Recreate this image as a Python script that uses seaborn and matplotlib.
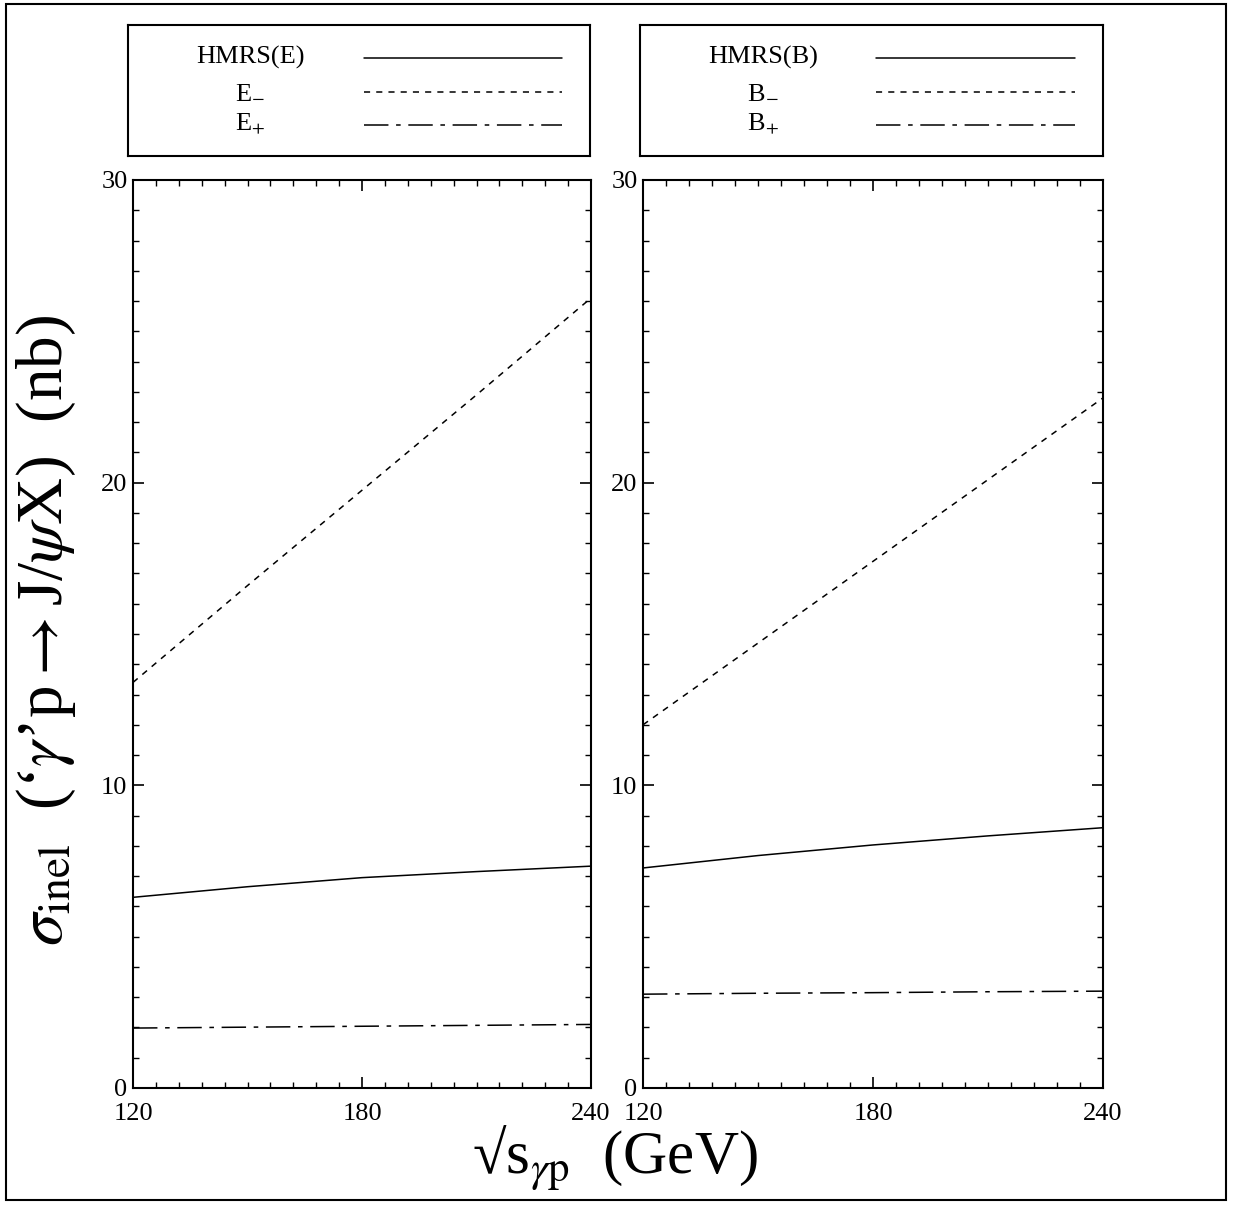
import matplotlib
matplotlib.use("Agg")
import matplotlib.pyplot as plt
import seaborn as sns
import pandas as pd
from matplotlib.patches import Rectangle
from matplotlib.ticker import MultipleLocator

# --- data ---
sqrt_s = [120, 150, 180, 210, 240]

# left panel: HMRS(E) set
hmrs_e = [6.3, 6.65, 6.95, 7.15, 7.33]
e_minus = [13.4, 16.6, 19.75, 22.9, 26.1]
e_plus = [1.98, 2.01, 2.04, 2.07, 2.1]

# right panel: HMRS(B) set
hmrs_b = [7.27, 7.68, 8.03, 8.33, 8.6]
b_minus = [12.0, 14.7, 17.4, 20.1, 22.8]
b_plus = [3.1, 3.13, 3.15, 3.18, 3.2]

x_ticks = [120, 180, 240]
y_ticks = [0, 10, 20, 30]

sns.set_style("ticks")
plt.rcParams["font.family"] = ["Liberation Serif", "DejaVu Serif"]
plt.rcParams["mathtext.fontset"] = "stix"

W, H = 1242, 1209
fig = plt.figure(figsize=(W / 100, H / 100), dpi=100)

styles = ["-", (0, (4, 4)), (0, (16, 5, 3, 5))]


def fbox(x0, y0, x1, y1):
    # pixel box -> figure fraction rect
    return [x0 / W, 1 - y1 / H, (x1 - x0) / W, (y1 - y0) / H]


panels = [
    (fbox(133, 180, 591, 1088), fbox(128, 25, 590, 156),
     [hmrs_e, e_minus, e_plus], ["HMRS(E)", r"E$_{-}$", r"E$_{+}$"]),
    (fbox(643, 180, 1103, 1088), fbox(640, 25, 1103, 156),
     [hmrs_b, b_minus, b_plus], ["HMRS(B)", r"B$_{-}$", r"B$_{+}$"]),
]

for rect, lrect, series, labels in panels:
    ax = fig.add_axes(rect)
    df = pd.DataFrame({"s": sqrt_s})
    for vals, ls in zip(series, styles):
        df["v"] = vals
        sns.lineplot(data=df, x="s", y="v", ax=ax, color="black",
                     linestyle=ls, linewidth=1.1)
    ax.set_xlim(120, 240)
    ax.set_ylim(0, 30)
    ax.set_xticks(x_ticks)
    ax.set_yticks(y_ticks)
    ax.xaxis.set_minor_locator(MultipleLocator(6))
    ax.yaxis.set_minor_locator(MultipleLocator(1))
    ax.tick_params(which="both", direction="in", top=True, right=True,
                   labelsize=19, colors="black")
    ax.tick_params(axis="x", pad=11)
    ax.tick_params(axis="y", pad=4)
    ax.tick_params(which="major", length=8, width=1.2)
    ax.tick_params(which="minor", length=4, width=1.0)
    ax.set_xlabel("")
    ax.set_ylabel("")
    for sp in ax.spines.values():
        sp.set_linewidth(1.5)
        sp.set_color("black")

    # legend box
    lax = fig.add_axes(lrect)
    lax.set_xlim(0, 1)
    lax.set_ylim(0, 1)
    lax.set_xticks([])
    lax.set_yticks([])
    for sp in lax.spines.values():
        sp.set_linewidth(1.5)
        sp.set_color("black")
    for yy, lab, ls in zip([0.75, 0.49, 0.24], labels, styles):
        lax.text(0.265, yy, lab, ha="center", va="center", fontsize=19,
                 color="black")
        lax.plot([0.51, 0.94], [yy, yy], color="black", linestyle=ls,
                 linewidth=1.1)

fig.text(46 / W, 1 - 630 / H,
         r"$\sigma_{\rm inel}$  (‘$\gamma$’p$\rightarrow$J/$\psi$X)  (nb)",
         rotation=90, ha="center", va="center", fontsize=47, color="black")
fig.text(615 / W, 1 - 1158 / H, r"√s$_{\gamma \rm p}$  (GeV)",
         ha="center", va="center", fontsize=44, color="black")

fig.patches.append(Rectangle((6 / W, 1 - 1200 / H), 1220 / W, 1196 / H,
                             transform=fig.transFigure, fill=False,
                             edgecolor="black", linewidth=1.5))

fig.savefig("out.png", dpi=100)
